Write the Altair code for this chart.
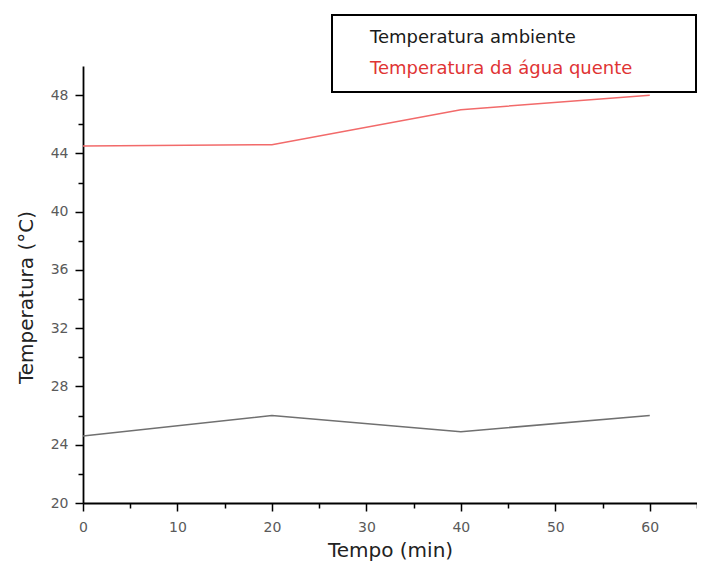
import altair as alt
import pandas as pd

# ---- data ----
tempo = [0, 20, 40, 60]
temp_ambiente = [24.6, 26.0, 24.9, 26.0]
temp_agua = [44.5, 44.6, 47.0, 48.0]
series = ["Temperatura ambiente", "Temperatura da água quente"]
line_colors = ["#707070", "#f26a6a"]
label_colors = ["#1a1a1a", "#e03434"]
x_ticks = list(range(0, 70, 5))
y_ticks = list(range(20, 50, 2))

df = pd.DataFrame({
    "Tempo": tempo * 2,
    "Temperatura": temp_ambiente + temp_agua,
    "Serie": [series[0]] * len(tempo) + [series[1]] * len(tempo),
})

major_x = "datum.value % 10 === 0 && datum.value <= 60"
major_y = "datum.value % 4 === 0"

x_axis = alt.Axis(
    values=x_ticks,
    labelExpr=f"{major_x} ? datum.label : ''",
    tickSize={"condition": {"test": major_x, "value": 8}, "value": 5},
    title="Tempo (min)",
    grid=False,
    labelOverlap=False,
    labelFlush=False,
    labelPadding=9,
    titlePadding=6,
)
y_axis = alt.Axis(
    values=y_ticks,
    labelExpr=f"{major_y} ? datum.label : ''",
    tickSize={"condition": {"test": major_y, "value": 8}, "value": 5},
    title="Temperatura (°C)",
    grid=False,
    labelOverlap=False,
    labelFlush=False,
    labelPadding=7,
    titlePadding=14,
    titleY=231,
)

legend = alt.Legend(
    title=None,
    orient="none",
    legendX=249,
    legendY=-51,
    direction="vertical",
    padding=14,
    rowPadding=13,
    labelFont="DejaVu Sans",
    labelFontSize=18,
    labelLimit=600,
    labelColor={"expr": f"datum.value === '{series[0]}' ? '{label_colors[0]}' : '{label_colors[1]}'"},
    labelOffset={"expr": "-316"},
    symbolType="square",
    symbolSize=100,
    symbolOffset=322,
    symbolOpacity=0,
    symbolStrokeWidth=0,
    strokeColor="black",
    fillColor="white",
)

chart = (
    alt.Chart(df)
    .mark_line(strokeWidth=1.5)
    .encode(
        x=alt.X("Tempo:Q", scale=alt.Scale(domain=[0, 65], nice=False, zero=False), axis=x_axis),
        y=alt.Y("Temperatura:Q", scale=alt.Scale(domain=[20, 50], nice=False, zero=False), axis=y_axis),
        color=alt.Color("Serie:N", scale=alt.Scale(domain=series, range=line_colors), legend=legend),
    )
    .properties(
        width=614,
        height=437,
        autosize=alt.AutoSizeParams(type="none"),
        padding={"left": 75, "top": 58, "right": 0, "bottom": 60},
    )
    .configure_view(stroke=None)
    .configure_axis(
        domainColor="black",
        domainWidth=1.8,
        tickColor="black",
        tickWidth=1.5,
        labelFont="DejaVu Sans",
        labelFontSize=14,
        labelColor="#5a5a5a",
        titleFont="DejaVu Sans",
        titleFontSize=20,
        titleFontWeight="normal",
        titleColor="#222222",
    )
    .configure_legend(strokeWidth=2)
)

chart.save("out.html", embed_options={"renderer": "svg", "actions": False})
